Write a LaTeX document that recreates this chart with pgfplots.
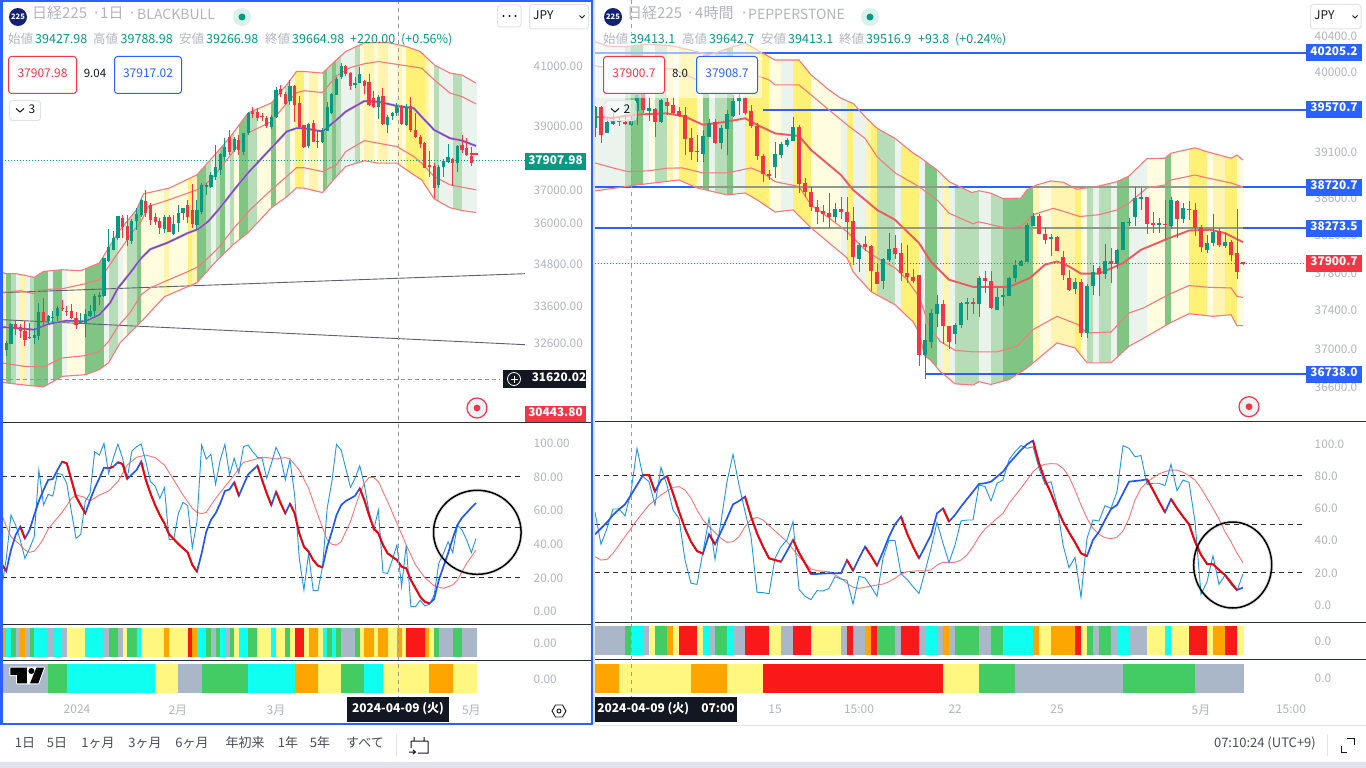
\documentclass[border=0pt]{standalone}
\usepackage{pgfplots}
\usepackage{fontspec}
\pgfplotsset{compat=1.18}
\setmainfont{Noto Sans CJK JP}
\definecolor{cblue}{HTML}{2962FF}\definecolor{cgray}{HTML}{B2B5BE}\definecolor{cteal}{HTML}{089981}
\definecolor{cred}{HTML}{F23645}\definecolor{cline}{HTML}{2A2E39}\definecolor{cdark}{HTML}{131722}
\definecolor{cbar}{HTML}{E0E3EB}\definecolor{cbot}{HTML}{4A4D57}\definecolor{cband}{HTML}{F7787C}
\definecolor{cmid}{HTML}{EF5A60}\definecolor{cpur}{HTML}{6256D6}\definecolor{cthin}{HTML}{2196E3}
\definecolor{csal}{HTML}{FF7474}\definecolor{ckb}{HTML}{2257F5}\definecolor{cover}{HTML}{8E9A8C}
\definecolor{rO}{HTML}{FFA500}\definecolor{rC}{HTML}{0FFFF0}\definecolor{rG}{HTML}{43CC63}
\definecolor{rA}{HTML}{A9B7C9}\definecolor{rY}{HTML}{FFF780}\definecolor{rR}{HTML}{F91919}
\definecolor{mC}{HTML}{80C583}\definecolor{mG}{HTML}{B6DDB8}\definecolor{mA}{HTML}{EAF4EC}
\definecolor{mY}{HTML}{FFFCE0}\definecolor{mO}{HTML}{FFF5B0}\definecolor{mR}{HTML}{FFF176}
% colour runs (from bar, to bar, class)
\newcommand\stripsL[1]{#1{0}{1}{O}#1{1}{2}{C}#1{2}{3}{G}#1{3}{4}{A}#1{4}{5}{O}#1{5}{6}{A}#1{6}{7}{G}#1{7}{10}{C}#1{10}{11}{A}#1{11}{13}{C}#1{13}{14}{A}#1{14}{18}{Y}#1{18}{22}{C}#1{22}{23}{A}#1{23}{25}{G}#1{25}{26}{A}#1{26}{27}{Y}#1{27}{29}{G}#1{29}{30}{C}#1{30}{35}{Y}#1{35}{36}{O}#1{36}{40}{Y}#1{40}{41}{R}#1{41}{42}{O}#1{42}{44}{C}#1{44}{45}{G}#1{45}{46}{A}#1{46}{47}{G}#1{47}{48}{C}#1{48}{49}{A}#1{49}{50}{G}#1{50}{51}{Y}#1{51}{53}{C}#1{53}{55}{G}#1{55}{58}{Y}#1{58}{59}{C}#1{59}{61}{Y}#1{61}{62}{G}#1{62}{63}{Y}#1{63}{65}{R}#1{65}{66}{Y}#1{66}{68}{O}#1{68}{69}{Y}#1{69}{70}{C}#1{70}{71}{G}#1{71}{72}{C}#1{72}{73}{G}#1{73}{76}{A}#1{76}{77}{G}#1{77}{78}{Y}#1{78}{80}{O}#1{80}{81}{Y}#1{81}{83}{O}#1{83}{85}{Y}#1{85}{86}{O}#1{86}{87}{Y}#1{87}{91}{R}#1{91}{92}{O}#1{92}{93}{Y}#1{93}{94}{G}#1{94}{97}{A}#1{97}{99}{G}#1{99}{102}{A}}
\newcommand\rowbL[1]{#1{0}{10}{A}#1{10}{14}{G}#1{14}{33}{C}#1{33}{38}{Y}#1{38}{43}{A}#1{43}{53}{G}#1{53}{63}{C}#1{63}{68}{O}#1{68}{73}{Y}#1{73}{78}{G}#1{78}{82}{C}#1{82}{92}{Y}#1{92}{97}{O}#1{97}{102}{Y}}
\newcommand\stripsR[1]{#1{0}{5}{A}#1{5}{6}{G}#1{6}{8}{C}#1{8}{9}{A}#1{9}{10}{Y}#1{10}{12}{G}#1{12}{13}{O}#1{13}{14}{Y}#1{14}{17}{R}#1{17}{18}{Y}#1{18}{19}{C}#1{19}{20}{A}#1{20}{22}{G}#1{22}{23}{C}#1{23}{25}{A}#1{25}{29}{R}#1{29}{31}{Y}#1{31}{33}{A}#1{33}{36}{R}#1{36}{41}{Y}#1{41}{42}{A}#1{42}{43}{R}#1{43}{45}{A}#1{45}{46}{O}#1{46}{47}{R}#1{47}{50}{G}#1{50}{51}{A}#1{51}{54}{R}#1{54}{55}{A}#1{55}{57}{C}#1{57}{58}{A}#1{58}{59}{O}#1{59}{60}{A}#1{60}{64}{G}#1{64}{66}{A}#1{66}{68}{G}#1{68}{73}{C}#1{73}{74}{O}#1{74}{76}{Y}#1{76}{80}{O}#1{80}{81}{R}#1{81}{82}{Y}#1{82}{83}{G}#1{83}{84}{A}#1{84}{86}{G}#1{86}{87}{A}#1{87}{89}{C}#1{89}{92}{A}#1{92}{95}{Y}#1{95}{96}{C}#1{96}{99}{Y}#1{99}{102}{R}#1{102}{103}{Y}#1{103}{105}{O}#1{105}{107}{R}#1{107}{108}{Y}}
\newcommand\rowbR[1]{#1{0}{4}{O}#1{4}{16}{Y}#1{16}{22}{O}#1{22}{28}{Y}#1{28}{58}{R}#1{58}{64}{Y}#1{64}{70}{G}#1{70}{88}{A}#1{88}{100}{G}#1{100}{108}{A}}
\newcommand\mainstrip[3]{\addplot[forget plot,draw=m#3,line width=.15pt,fill=m#3] coordinates {(#1,\ylo)(#2,\ylo)(#2,\yhi)(#1,\yhi)};}
\newcommand\rowstrip[3]{\addplot[forget plot,draw=r#3,line width=.15pt,fill=r#3] coordinates {(#1,-1)(#2,-1)(#2,1)(#1,1)};}
% candles: bar, open, high, low, close
\newcommand\Cg[5]{\addplot[forget plot,color=cteal,line width=1pt] coordinates {(#1,#4)(#1,#3)};\addplot[forget plot,color=cteal,line width=\bw] coordinates {(#1,#2)(#1,#5)};}
\newcommand\Cr[5]{\addplot[forget plot,color=cred,line width=1pt] coordinates {(#1,#4)(#1,#3)};\addplot[forget plot,color=cred,line width=\bw] coordinates {(#1,#2)(#1,#5)};}
\newcommand\leftcandles{%
\Cr{0}{33178}{33178}{32170}{32410}\Cg{1}{32410}{32633}{32231}{32590}\Cg{2}{32571}{33135}{32571}{33115}\Cr{3}{33107}{33225}{32815}{32970}\Cr{4}{33025}{33115}{32725}{32905}\Cr{5}{32924}{33178}{32517}{32679}\Cg{6}{32714}{33135}{32698}{32741}\Cg{7}{32733}{32998}{32571}{32815}\Cg{8}{32788}{33688}{32679}{33446}\Cr{9}{33446}{33827}{33088}{33178}%
\Cg{10}{33190}{33355}{33115}{33335}\Cg{11}{33280}{33454}{33135}{33300}\Cg{12}{33316}{33592}{33198}{33556}\Cr{13}{33548}{33780}{33454}{33520}\Cr{14}{33465}{33592}{33316}{33446}\Cr{15}{33473}{33669}{33244}{33270}\Cr{16}{33270}{33438}{32978}{33068}\Cg{17}{33143}{33410}{33096}{33170}\Cg{18}{33115}{33520}{32741}{33391}\Cg{19}{33335}{33640}{33298}{33454}%
\Cg{20}{33454}{33948}{33316}{33892}\Cg{21}{33845}{33995}{33640}{33920}\Cg{22}{33892}{34965}{33855}{34955}\Cg{23}{34888}{35825}{34868}{35275}\Cg{24}{35207}{35745}{35187}{35550}\Cg{25}{35550}{36213}{35500}{36192}\Cr{26}{36144}{36243}{35550}{35875}\Cr{27}{35893}{36243}{35324}{35500}\Cg{28}{35470}{36114}{35374}{36072}\Cg{29}{36042}{36453}{35795}{36273}%
\Cg{30}{36243}{36725}{36183}{36695}\Cr{31}{36674}{37000}{36183}{36293}\Cr{32}{36543}{36604}{35944}{36093}\Cr{33}{36183}{36303}{35944}{36033}\Cr{34}{36063}{36153}{35677}{35855}\Cg{35}{35825}{36243}{35707}{36183}\Cr{36}{36183}{36243}{35736}{35736}\Cg{37}{35677}{36243}{35648}{35974}\Cg{38}{36003}{36543}{35736}{36303}\Cg{39}{36303}{36453}{36093}{36453}%
\Cr{40}{36543}{36695}{36003}{36183}\Cr{41}{36393}{37185}{35855}{35974}\Cg{42}{35944}{36695}{35795}{36393}\Cg{43}{36333}{37215}{36273}{37154}\Cg{44}{37092}{37215}{36847}{37154}\Cg{45}{37092}{37557}{37061}{37463}\Cg{46}{37402}{38405}{37308}{37712}\Cg{47}{37618}{38152}{37463}{38120}\Cg{48}{38025}{38628}{37931}{38341}\Cr{49}{38660}{38885}{38089}{38183}%
\Cg{50}{38246}{38660}{38183}{38596}\Cr{51}{38564}{38724}{38089}{38246}\Cg{52}{38183}{38788}{38089}{38788}\Cg{53}{38788}{39469}{38724}{39436}\Cr{54}{39501}{39632}{39273}{39403}\Cr{55}{39469}{39600}{39176}{39273}\Cr{56}{39320}{39436}{39176}{39290}\Cr{57}{39273}{39338}{38950}{39014}\Cg{58}{38982}{39371}{38917}{39305}\Cg{59}{39305}{40294}{39273}{40194}%
\Cr{60}{40228}{40361}{39961}{40061}\Cr{61}{40061}{40127}{39698}{39731}\Cg{62}{39829}{40528}{39698}{40327}\Cr{63}{40327}{40361}{39143}{39698}\Cr{64}{39764}{39994}{38950}{38982}\Cr{65}{39046}{39046}{38310}{38341}\Cg{66}{38373}{39111}{38310}{39079}\Cr{67}{39111}{39208}{38500}{38500}\Cg{68}{38515}{38853}{38310}{38532}\Cg{69}{38500}{38950}{38469}{38885}%
\Cg{70}{38853}{39796}{38853}{39632}\Cg{71}{39436}{40094}{39403}{40061}\Cg{72}{40028}{40630}{40028}{40561}\Cg{73}{40630}{41102}{40561}{41000}\Cr{74}{41000}{41034}{40663}{40730}\Cr{75}{40763}{40797}{40194}{40327}\Cg{76}{40361}{40630}{40261}{40428}\Cg{77}{40428}{40966}{40428}{40730}\Cr{78}{40495}{40528}{40061}{40327}\Cr{79}{40461}{40730}{39665}{39698}%
\Cr{80}{39928}{40161}{39600}{39632}\Cg{81}{39632}{40028}{39240}{39961}\Cr{82}{39994}{40261}{39046}{39079}\Cg{83}{39046}{39371}{38788}{39305}\Cg{84}{39338}{39469}{39208}{39436}\Cg{85}{39436}{39764}{39338}{39698}\Cr{86}{39665}{39698}{39046}{39079}\Cg{87}{39046}{39731}{39014}{39632}\Cr{88}{39665}{39961}{38821}{38885}\Cr{89}{38885}{39436}{38628}{38660}%
\Cr{90}{38660}{38724}{38310}{38437}\Cr{91}{38469}{38500}{37680}{37680}\Cr{92}{37755}{38215}{37400}{37712}\Cr{93}{37743}{37838}{36756}{37061}\Cg{94}{37154}{37775}{37061}{37712}\Cg{95}{37712}{37962}{37402}{37900}\Cg{96}{37868}{38437}{37838}{38025}\Cr{97}{37962}{37994}{37123}{37838}\Cg{98}{37838}{38405}{37557}{38373}\Cr{99}{38405}{38724}{38152}{38246}%
\Cr{100}{38310}{38628}{38058}{38089}\Cr{101}{38058}{38341}{37743}{37838}}
\newcommand\rightcandles{%
\Cg{0}{39368}{39612}{39269}{39604}\Cr{1}{39601}{39612}{39202}{39291}\Cg{2}{39316}{39494}{39309}{39435}\Cg{3}{39413}{39535}{39402}{39449}\Cr{4}{39457}{39494}{39391}{39438}\Cr{5}{39438}{39513}{39402}{39413}\Cg{6}{39402}{39535}{39391}{39457}\Cg{7}{39560}{39746}{39402}{39735}\Cr{8}{39754}{39757}{39538}{39568}\Cg{9}{39560}{39701}{39449}{39587}%
\Cr{10}{39579}{39594}{39272}{39438}\Cg{11}{39438}{39690}{39420}{39679}\Cr{12}{39660}{39701}{39513}{39612}\Cr{13}{39623}{39705}{39513}{39531}\Cr{14}{39557}{39601}{39494}{39505}\Cr{15}{39513}{39604}{39067}{39246}\Cr{16}{39257}{39368}{39016}{39106}\Cr{17}{39114}{39291}{38997}{39100}\Cg{18}{39081}{39346}{38997}{39279}\Cg{19}{39272}{39468}{39265}{39420}%
\Cr{20}{39435}{39471}{39187}{39205}\Cg{21}{39198}{39402}{39136}{39365}\Cg{22}{39357}{39568}{39070}{39524}\Cg{23}{39505}{39735}{39494}{39668}\Cg{24}{39665}{39791}{39513}{39698}\Cr{25}{39698}{39716}{39513}{39538}\Cr{26}{39557}{39623}{39368}{39391}\Cr{27}{39391}{39424}{39016}{39062}\Cr{28}{39062}{39081}{38778}{38862}\Cr{29}{38862}{38906}{38797}{38844}%
\Cg{30}{38936}{39216}{38815}{39081}\Cg{31}{39073}{39216}{39034}{39191}\Cg{32}{39180}{39257}{39162}{39235}\Cg{33}{39227}{39487}{39221}{39383}\Cr{34}{39383}{39402}{38655}{38753}\Cr{35}{38767}{38819}{38616}{38666}\Cr{36}{38666}{38721}{38463}{38500}\Cr{37}{38500}{38580}{38321}{38453}\Cr{38}{38460}{38525}{38335}{38428}\Cr{39}{38435}{38656}{38278}{38393}%
\Cg{40}{38393}{38544}{38335}{38482}\Cr{41}{38482}{38613}{38375}{38453}\Cr{42}{38449}{38613}{38149}{38342}\Cr{43}{38353}{38507}{37882}{37960}\Cg{44}{37946}{38113}{37800}{38095}\Cr{45}{38106}{38192}{38024}{38074}\Cr{46}{38085}{38095}{37599}{37811}\Cr{47}{37808}{37900}{37681}{37681}\Cg{48}{37705}{37953}{37628}{37946}\Cg{49}{37935}{38221}{37911}{38053}%
\Cr{50}{38063}{38202}{37946}{38000}\Cr{51}{38010}{38114}{37712}{37790}\Cr{52}{37797}{38095}{37691}{37755}\Cr{53}{37755}{37840}{37688}{37705}\Cr{54}{37776}{37776}{36815}{36929}\Cg{55}{36937}{37259}{36688}{37092}\Cg{56}{37071}{37416}{37009}{37374}\Cg{57}{37364}{37564}{37228}{37466}\Cr{58}{37469}{37511}{37050}{37231}\Cr{59}{37231}{37239}{36998}{37071}%
\Cg{60}{37155}{37266}{37050}{37249}\Cg{61}{37242}{37483}{37218}{37476}\Cg{62}{37469}{37532}{37301}{37487}\Cr{63}{37487}{37532}{37364}{37469}\Cg{64}{37469}{37766}{37332}{37741}\Cr{65}{37741}{37818}{37585}{37705}\Cr{66}{37709}{37818}{37416}{37420}\Cg{67}{37406}{37635}{37399}{37539}\Cg{68}{37535}{37638}{37441}{37564}\Cg{69}{37546}{37755}{37546}{37744}%
\Cg{70}{37737}{37935}{37702}{37882}\Cg{71}{37872}{37935}{37864}{37921}\Cg{72}{37914}{38331}{37914}{38310}\Cg{73}{38299}{38439}{38292}{38407}\Cr{74}{38407}{38428}{38206}{38206}\Cr{75}{38213}{38291}{38099}{38142}\Cg{76}{38152}{38213}{37970}{38178}\Cr{77}{38178}{38185}{38024}{38031}\Cr{78}{37967}{38024}{37723}{37768}\Cr{79}{37744}{37829}{37599}{37617}%
\Cg{80}{37628}{37741}{37575}{37699}\Cr{81}{37699}{37730}{37120}{37163}\Cg{82}{37163}{37681}{37113}{37659}\Cg{83}{37652}{37882}{37556}{37805}\Cr{84}{37850}{37864}{37546}{37787}\Cg{85}{37787}{38103}{37730}{37925}\Cr{86}{37925}{38060}{37688}{37885}\Cg{87}{37885}{38049}{37836}{38042}\Cg{88}{38042}{38346}{38035}{38335}\Cg{89}{38331}{38385}{38292}{38342}%
\Cg{90}{38393}{38721}{38292}{38602}\Cg{91}{38591}{38710}{38471}{38613}\Cr{92}{38613}{38613}{38213}{38321}\Cr{93}{38328}{38453}{38224}{38310}\Cg{94}{38310}{38385}{38224}{38328}\Cr{95}{38321}{38580}{38160}{38305}\Cg{96}{38299}{38613}{38267}{38580}\Cr{97}{38569}{38580}{38170}{38375}\Cg{98}{38371}{38544}{38331}{38489}\Cr{99}{38482}{38569}{38364}{38471}%
\Cr{100}{38471}{38547}{38185}{38278}\Cr{101}{38285}{38310}{38021}{38067}\Cg{102}{38042}{38202}{38010}{38114}\Cg{103}{38114}{38428}{38085}{38231}\Cr{104}{38242}{38278}{38074}{38095}\Cg{105}{38085}{38224}{38063}{38124}\Cr{106}{38124}{38149}{37925}{37989}\Cr{107}{38007}{38482}{37734}{37800}\Cr{108}{37915}{37915}{37880}{37890}}
% left bands
\newcommand\LUtwo[2]{\addplot[#1] coordinates {(0,34552)(1,34515)(3,34515)(5,34467)(7,34410)(9,34581)(13,34629)(17,34600)(18,34658)(21,34821)(23,35265)(25,35715)(29,36393)(30.5,36878)(36,37053)(42,37463)(45.5,38035)(49,38628)(53,39436)(58,39764)(61.3,40361)(63.4,40808)(65,40808)(69,40753)(72,41204)(74,41488)(78,41789)(83,41800)(87,41658)(90,41488)(93,41034)(96.4,40753)(99,40686)(102,40418)#2};}
\newcommand\LUone[1]{\addplot[#1] coordinates {(0,33984)(4,34032)(7,33948)(8,34060)(13,34088)(18,34231)(21,34344)(23,34724)(25,35111)(28,35698)(30,36042)(31.5,36493)(36,36695)(42,37000)(45,37308)(48.4,37931)(53,38788)(58,39153)(61.3,39764)(63.4,40094)(65,40161)(69,40104)(72,40660)(75,40942)(78,41068)(81,41146)(87,41000)(90.3,40922)(93,40528)(96.4,40085)(99,39971)(102,39731)};}
\newcommand\LMid[1]{\addplot[#1] coordinates {(0,33025)(7,32951)(10,33107)(14,33198)(18,33178)(21,33363)(23.3,33688)(25,34108)(27.6,34535)(30,34966)(32,35228)(35.5,35403)(40,35698)(42.3,35816)(44.4,36042)(46.6,36393)(50,37000)(53,37525)(57,38152)(61.3,38830)(63.4,38940)(65,38940)(69,38830)(72,39208)(74,39479)(78,39829)(81,39806)(85,39665)(88.6,39590)(90.3,39315)(93,38885)(96.4,38618)(99,38542)(102,38373)};}
\newcommand\LLone[1]{\addplot[#1] coordinates {(0,32056)(5,31965)(9,31950)(13,32188)(18,32250)(21,32365)(23,32633)(25,33041)(27.6,33418)(30,33920)(32,34117)(35.5,34316)(40,34572)(42.3,34715)(44.4,34975)(46.6,35265)(50,35855)(53.4,36393)(58,37000)(61.3,37410)(63.4,37680)(65,37680)(69,37565)(72,37775)(74,38192)(78,38542)(81,38460)(85,38350)(88.6,38035)(90.3,37827)(93,37410)(96.4,37154)(99,37083)(102,37000)};}
\newcommand\LLtwo[2]{\addplot[#1] coordinates {(0,31545)(4,31485)(9,31425)(13,31702)(18,31746)(21,31878)(23,32063)(25.5,32598)(30,33170)(35,33864)(42,34259)(46,34859)(50,35383)(53,35707)(58,36453)(61.3,36786)(63.4,37061)(65,37053)(69,36917)(72,37410)(74,37722)(78,37900)(81,37827)(85,37827)(88.6,37463)(90.3,37308)(93,36725)(96.4,36453)(99,36372)(102,36312)#2};}
% right bands
\newcommand\RUtwo[2]{\addplot[#1] coordinates {(0,40335)(2,40286)(5,40278)(9,40309)(13,40286)(17,40222)(19,40184)(23,40278)(25,40320)(28,40204)(30,40128)(34,40128)(36,39961)(39,39791)(41,39698)(43,39642)(45,39494)(47,39365)(50,39253)(53,39092)(54,39052)(57,38906)(59,38778)(62.8,38659)(64,38680)(66,38652)(68,38594)(71,38599)(72,38688)(73.6,38742)(76,38786)(78,38772)(80.3,38696)(83.6,38724)(87,38778)(89,38840)(92,39030)(95,39034)(96,39089)(100,39150)(102,39106)(106,39034)(107,39070)(108,39016)#2};}
\newcommand\RUone[1]{\addplot[#1] coordinates {(0,40064)(3,40027)(5.5,40005)(9,40035)(13,40027)(17,39904)(19,39885)(23,39961)(25,39998)(29,39904)(30,39848)(34,39848)(36,39735)(39,39568)(42,39402)(45,39253)(47,39052)(50,38873)(54,38723)(57,38580)(59,38436)(63,38321)(64,38342)(68.6,38274)(71,38292)(73,38418)(76.4,38489)(80.8,38400)(84,38418)(87,38471)(89,38547)(92,38710)(95,38742)(96,38797)(100,38851)(102,38819)(106,38764)(108,38720)};}
\newcommand\RMid[1]{\addplot[#1] coordinates {(0,39490)(3,39479)(5,39501)(8,39520)(12,39531)(15,39494)(18,39402)(22,39438)(25,39476)(27,39402)(30,39309)(34,39279)(36,39125)(41,38851)(43,38688)(45,38580)(47,38471)(50,38364)(52,38238)(54,38114)(56,37914)(59,37723)(63,37646)(69,37646)(72.5,37741)(75,37882)(77,37917)(79,37864)(81,37787)(84,37787)(88,37900)(91,38042)(95,38149)(99,38249)(102.5,38256)(105,38221)(108,38124)};}
\newcommand\RLone[1]{\addplot[#1] coordinates {(0,38983)(3,38928)(5.5,38887)(9,38898)(12,38925)(14.5,38928)(18,38873)(22,38873)(26,38928)(28,38873)(30,38778)(34,38724)(36,38525)(39,38385)(42,38235)(45,38042)(47,37956)(50,37850)(52,37723)(54,37543)(55.83,37218)(57.5,37074)(60,36981)(63,36965)(67,36965)(70.3,37023)(73,37197)(77,37336)(80.5,37249)(82,37162)(86,37172)(89,37371)(91.4,37424)(95.8,37572)(99,37660)(102.5,37642)(106,37635)(107,37546)(108,37536)};}
\newcommand\RLtwo[2]{\addplot[#1] coordinates {(0,38677)(7,38742)(14,38797)(17,38710)(22,38634)(25,38655)(27,38580)(30,38449)(33,38471)(36,38278)(39,38117)(42,37956)(43,37808)(46,37596)(50,37458)(53,37280)(54,37166)(55,36916)(55.83,36885)(57.5,36763)(60,36634)(63,36620)(64,36655)(66,36627)(69,36678)(72,36798)(77,37058)(80,37006)(82,36851)(86,36851)(89,37023)(92,37127)(95.8,37266)(99,37364)(103,37336)(106,37353)(107,37239)(108,37239)#2};}
% oscillators
\newcommand\LK[1]{\addplot[#1] coordinates {(0,27.8)(1,23.8)(2,36.3)(3,45.2)(4,50.2)(5,43.2)(6,48.2)(7,57.1)(8,65.5)(9,72)(10,78)(11,78.6)(12,83.9)(13,88.9)(14,87.9)(15,78)(16,68)(17,63)(18,58.1)(19,66)(20,73)(21,79)(22,85.3)(23,84.9)(24,85.9)(25,88.5)(26,87.5)(27,78.6)(28,81.3)(29,83.9)(30,88.9)(31,78)(32,70)(33,63)(34,57.1)(35,52.2)(36,45.6)(37,42.8)(38,39.9)(39,37.3)(40,34.9)(41,27.4)(42,23.4)(43,34.3)(44,47.2)(45,54.2)(46,58.1)(47,64.1)(48,71.4)(49,72.4)(50,76.6)(51,68.6)(52,75)(53,81.3)(54,83.9)(55,86.5)(56,78)(57,70)(58,63)(59,71)(60,64.1)(61,58.1)(62,63.9)(63,58.1)(64,46.2)(65,38.3)(66,35.3)(67,30.3)(68,27)(69,26)(70,38.3)(71,47.2)(72,57.1)(73,63)(74,65.5)(75,67)(76,68.6)(77,73)(78,66)(79,57.1)(80,49.2)(81,46.2)(82,39.3)(83,34.3)(84,32.3)(85,30.3)(86,26.4)(87,25.4)(88,18.4)(89,13.5)(90,8.5)(91,5.5)(92,4.5)(93,7.1)(94,18.4)(95,26.4)(96,34.3)(97,43.2)(98,51.2)(99,55.5)(100,58.5)(101,61.5)(102,64.3)};}
\newcommand\RK[1]{\addplot[#1] coordinates {(0,43.6)(1,47.3)(2,51)(3,55.6)(4,59.1)(5,62.2)(6,68)(7,74.2)(8,80.4)(9,80.4)(10,70.1)(11,77.3)(12,79.8)(13,69)(14,57.7)(15,47.3)(16,39)(17,33.2)(18,31.6)(19,43.6)(20,37.4)(21,45.2)(22,53.5)(23,62.2)(24,64.3)(25,67)(26,54.6)(27,44.2)(28,35.9)(29,28.7)(30,27.6)(31,26.6)(32,33.2)(33,40.1)(34,32.2)(35,25.6)(36,19)(37,19)(38,19.2)(39,19.4)(40,19.4)(41,19.4)(42,27.6)(43,21)(44,28.7)(45,35.9)(46,30.3)(47,24.1)(48,32.8)(49,42.1)(50,49.8)(51,54.6)(52,44.2)(53,35.9)(54,28.7)(55,35.9)(56,43.2)(57,56.6)(58,59.7)(59,51.5)(60,55.6)(61,60.8)(62,65.5)(63,70.1)(64,74.9)(65,75.3)(66,76.3)(67,79.4)(68,82.5)(69,87.7)(70,91.8)(71,96)(72,99.5)(73,101.8)(74,87.7)(75,77.3)(76,69)(77,59.7)(78,51.5)(79,44.8)(80,38.6)(81,31.8)(82,30.1)(83,40.1)(84,45.2)(85,52.5)(86,59.3)(87,61.8)(88,69)(89,76.3)(90,76.7)(91,77.1)(92,77.8)(93,71.1)(94,63.9)(95,57.3)(96,65.5)(97,59.7)(98,54.6)(99,49.8)(100,39)(101,30.8)(102,25.2)(103,25)(104,21.4)(105,18.3)(106,13.6)(107,9)(108,10.5)};}
\newcommand{\fs}[1]{\fontsize{#1}{#1}\selectfont}
\pgfplotsset{panel/.style={scale only axis,anchor=north west,axis line style={draw=none},tick style={draw=none},major tick length=0pt,xtick=\empty,yticklabel pos=right,
 yticklabel style={font=\fs{11.8},text=cgray,anchor=west,inner sep=0pt,xshift=8.5pt,yshift=-.5pt},xticklabel style={font=\fs{12},text=cgray,inner sep=0pt}}}
\newcommand{\txt}[5]{\node[anchor=#1,inner sep=0pt,text=#4,font=\fs{#3}] at (#2) {#5};}
\begin{document}
\begin{tikzpicture}
\path[use as bounding box] (0,0) rectangle (1366pt,-768pt);
\fill[white] (0,0) rectangle (1366pt,-768pt);
\fill[cbar] (592pt,0) rectangle (595pt,-724pt);
%------------- LEFT PRICE
\begin{axis}[panel,at={(2.5pt,-2pt)},width=522.5pt,height=420pt,xmin=0.179,xmax=112.54,ymode=log,ymin=30529,ymax=43231,
 ytick={41000,39000,37000,36000,34800,33600,32600},yticklabels={41000.00,39000.00,37000.00,36000.00,34800.00,33600.00,32600.00}]
\def\ylo{30529}\def\yhi{43231}\def\bw{3.2pt}
\stripsL\mainstrip
\LUtwo{forget plot,fill=white,draw=none}{(102.5,40418)(102.5,43231)(-0.3,43231)}
\LLtwo{forget plot,fill=white,draw=none}{(102.5,36312)(102.5,30529)(-0.3,30529)}
\addplot[forget plot,color=cline!75,line width=.9pt] coordinates {(0,33976)(112.5,34515)};
\addplot[forget plot,color=cline!75,line width=.9pt] coordinates {(0,33225)(112.5,32545)};
\addplot[forget plot,color=gray!85,line width=.8pt,dash pattern=on 4pt off 3pt] coordinates {(0,31620)(107,31620)};
\addplot[forget plot,color=cteal,line width=.8pt,dash pattern=on 1pt off 2pt] coordinates {(0,37908)(112.5,37908)};
\LUtwo{forget plot,color=cband,line width=1.1pt}{}
\LUone{forget plot,color=cband,line width=1.1pt}
\LLone{forget plot,color=cband,line width=1.1pt}
\LLtwo{forget plot,color=cband,line width=1.1pt}{}
\LMid{forget plot,color=cband!70,line width=2.4pt}
\LMid{forget plot,color=cpur,line width=1.5pt}
\leftcandles
\addplot[forget plot,color=cred,line width=1.6pt] coordinates {(100.8,38110)(102.5,38110)};
\end{axis}
%------------- LEFT STOCH
\begin{axis}[panel,at={(2.5pt,-423pt)},width=522.5pt,height=201pt,xmin=0.179,xmax=112.54,ymin=-7.74,ymax=111.9,
 ytick={0,20,40,60,80,100},yticklabels={0.00,20.00,40.00,60.00,80.00,100.00}]
\addplot[forget plot,color=cline,line width=.9pt,dash pattern=on 5pt off 4pt] coordinates {(0,80)(112,80)};
\addplot[forget plot,color=cline,line width=.9pt,dash pattern=on 5pt off 4pt] coordinates {(0,50)(112,50)};
\addplot[forget plot,color=cline,line width=.9pt,dash pattern=on 5pt off 4pt] coordinates {(0,20)(112,20)};
\addplot[forget plot,color=csal,line width=.9pt] coordinates {(0,57.5)(1,50.2)(2,44.2)(4,39.3)(5,36.3)(6,34.9)(7,35.7)(8,38.9)(9,43.2)(10,48.8)(11,52.2)(13,58.7)(15,67)(16,69)(17.5,68)(19,65.5)(21,69)(23,71.4)(25,77)(27,86.9)(29,91.5)(31,92.8)(33,91.3)(35,86.9)(37,78)(39,69)(41,61.1)(42,58.7)(43,57.9)(44,58.7)(46,67)(48,74)(50,80.9)(52,88.5)(54,89.9)(56,91.5)(57,91.3)(59,90.5)(61,91.3)(62,90.5)(64,83.9)(66,73)(68,57.1)(70,42.2)(71,39.7)(72,39.3)(73,41.3)(75,53.2)(77,70)(78,76)(79,79.5)(80,79.5)(81,77)(83,65.1)(85,52.2)(87,39.3)(89,27.4)(91,19.8)(93,15)(95,13.5)(97,15.5)(98,18.4)(100,28.4)(102,36.3)};
\addplot[forget plot,color=cthin,line width=.9pt] coordinates {(0,14.1)(1,31.3)(2,57.1)(3,51.2)(4,42.2)(5,31.3)(6,37.3)(7,44.2)(8,83.9)(9,63.1)(10,69.4)(11,68.4)(12,81.9)(13,81.3)(14,76)(15,59.1)(16,43.2)(17,45.6)(18,65.5)(19,70)(20,94.8)(21,92.8)(22,99.8)(23,81.9)(24,90.9)(25,99.4)(26,90.9)(27,79)(28,95.2)(29,97.8)(30,99.4)(31,88.9)(32,77)(33,74.4)(34,67)(35,73.4)(36,42.6)(37,42.6)(38,58.1)(39,64.7)(40,62.7)(41,37.7)(42,53.2)(43,98.8)(44,90.5)(45,93.2)(46,75.4)(47,89.9)(48,99.2)(49,80.9)(50,90.9)(51,81.9)(52,97.8)(53,98.8)(54,94.8)(55,91.5)(56,90.9)(57,79)(58,87.9)(59,97.4)(60,91.5)(61,78)(62,89.9)(63,69)(64,31.3)(65,12.5)(66,34.3)(67,12.1)(68,12.1)(69,26.4)(70,61.1)(71,77)(72,99.2)(73,95.8)(74,84.9)(75,73.6)(76,79)(77,86.5)(78,75)(79,59.1)(80,48.2)(81,60.1)(82,22.8)(83,22.4)(84,30.3)(85,39.3)(86,14.5)(87,39.3)(88,2.6)(89,2.6)(90,6.5)(91,3)(92,4)(93,9.5)(94,28.4)(95,34.3)(96,41.3)(97,34.7)(98,51.2)(99,48.2)(100,42.2)(101,34.7)(102,43.2)};
\LK{forget plot,color=ckb,line width=1.7pt}
\LK{forget plot,color=red,line width=1.9pt,restrict x to domain=-0.01:1.01}
\LK{forget plot,color=red,line width=1.9pt,restrict x to domain=3.99:5.01}
\LK{forget plot,color=red,line width=1.9pt,restrict x to domain=12.99:18.01}
\LK{forget plot,color=red,line width=1.9pt,restrict x to domain=22.99:24.01}
\LK{forget plot,color=red,line width=1.9pt,restrict x to domain=24.99:27.01}
\LK{forget plot,color=red,line width=1.9pt,restrict x to domain=29.99:42.01}
\LK{forget plot,color=red,line width=1.9pt,restrict x to domain=49.99:51.01}
\LK{forget plot,color=red,line width=1.9pt,restrict x to domain=54.99:58.01}
\LK{forget plot,color=red,line width=1.9pt,restrict x to domain=58.99:61.01}
\LK{forget plot,color=red,line width=1.9pt,restrict x to domain=61.99:69.01}
\LK{forget plot,color=red,line width=1.9pt,restrict x to domain=76.99:92.01}
\end{axis}
%------------- LEFT ROWS
\begin{axis}[panel,at={(2.5pt,-625pt)},width=522.5pt,height=35pt,xmin=0.179,xmax=112.54,ymin=-1.25,ymax=1.25,ytick={0},yticklabels={0.00}]
\stripsL\rowstrip
\end{axis}
\begin{axis}[panel,at={(2.5pt,-661pt)},width=522.5pt,height=35pt,xmin=0.179,xmax=112.54,ymin=-1.25,ymax=1.25,ytick={0},yticklabels={0.00},
 xtick={16.2,37.9,59,101},xticklabels={2024,2月,3月,5月},xticklabel style={yshift=-9pt}]
\rowbL\rowstrip
\end{axis}
%------------- RIGHT PRICE (logarithmic price scale, through a coordinate transformation)
\begin{axis}[panel,at={(595pt,0pt)},width=711pt,height=421pt,xmin=0,xmax=118.5,
 y coord trafo/.code={\begingroup\pgfkeys{/pgf/fpu=true,/pgf/fpu/output format=fixed}\pgfmathparse{1000*ln(#1/36252)}\pgfmathsmuggle\pgfmathresult\endgroup},
 ymin=36252,ymax=40811,
 ytick={40400,40000,39100,38600,38200,37800,37400,37000,36600},yticklabels={40400.0,40000.0,39100.0,38600.0,38200.0,37800.0,37400.0,37000.0,36600.0}]
\def\ylo{36252}\def\yhi{40811}\def\bw{4.6pt}
\stripsR\mainstrip
\RUtwo{forget plot,fill=white,draw=none}{(108.5,39016)(108.5,40811)(-0.3,40811)}
\RLtwo{forget plot,fill=white,draw=none}{(108.5,37239)(108.5,36252)(-0.3,36252)}
\addplot[forget plot,color=cblue,line width=2pt] coordinates {(0,40205.2)(118.5,40205.2)};
\addplot[forget plot,color=cblue,line width=2pt] coordinates {(28,39570.7)(118.5,39570.7)};
\addplot[forget plot,color=cblue,line width=2pt] coordinates {(0,38720.7)(118.5,38720.7)};
\addplot[forget plot,color=cblue,line width=2pt] coordinates {(0,38273.5)(118.5,38273.5)};
\addplot[forget plot,color=cblue,line width=2pt] coordinates {(55,36738)(118.5,36738)};
\addplot[forget plot,color=cover,line width=2pt] coordinates {(16.7,38720.7)(59,38720.7)};
\addplot[forget plot,color=cover,line width=2pt] coordinates {(73,38720.7)(108,38720.7)};
\addplot[forget plot,color=cover,line width=2pt] coordinates {(36,38273.5)(108,38273.5)};
\addplot[forget plot,color=cred,line width=.8pt,dash pattern=on 1pt off 2pt] coordinates {(0,37900.7)(118.5,37900.7)};
\RUtwo{forget plot,color=cband,line width=1.1pt}{}
\RUone{forget plot,color=cband,line width=1.1pt}
\RLone{forget plot,color=cband,line width=1.1pt}
\RLtwo{forget plot,color=cband,line width=1.1pt}{}
\RMid{forget plot,color=cmid,line width=1.9pt}
\rightcandles
\end{axis}
%------------- RIGHT STOCH
\begin{axis}[panel,at={(595pt,-422pt)},width=711pt,height=200pt,xmin=0,xmax=118.5,ymin=-10.87,ymax=113.35,
 ytick={0,20,40,60,80,100},yticklabels={0.0,20.0,40.0,60.0,80.0,100.0}]
\addplot[forget plot,color=cline,line width=.9pt,dash pattern=on 5pt off 4pt] coordinates {(0,80)(118.3,80)};
\addplot[forget plot,color=cline,line width=.9pt,dash pattern=on 5pt off 4pt] coordinates {(0,50)(118.3,50)};
\addplot[forget plot,color=cline,line width=.9pt,dash pattern=on 5pt off 4pt] coordinates {(0,20)(118.3,20)};
\addplot[forget plot,color=csal,line width=.9pt] coordinates {(0,29.7)(1,27.6)(2,28)(3,31.8)(4,37)(6,47.3)(7,52.5)(9,61.8)(11,68)(13,72.8)(14,73.2)(15,71.1)(16,66)(17,58.7)(18,52.5)(19,48.4)(21,41.1)(22,38.6)(23,39)(24,42.1)(25,48.4)(26,52.9)(27,54.1)(28,52.5)(30,45.7)(32,39)(34,29.7)(35,25.6)(36,22.1)(37,21)(39,20.4)(41,16.3)(42,13.2)(43,10.7)(44,10)(46,11.5)(48,12.7)(49,14.2)(50,16.3)(51,19)(52,20.4)(54,21)(55,20.8)(56,21.4)(57,24.5)(58,26.2)(60,26.2)(61,27.6)(62,30.8)(63,35.9)(64,42.1)(65,46.9)(67,53.5)(68,56.6)(69,62.8)(70,67.6)(71,72.2)(72,77.3)(73,82.5)(74,85.6)(75,87.1)(76,87.5)(77,87.3)(78,84.6)(79,79.4)(80,71.1)(81,61.8)(82,53.5)(83,47.3)(84,43.6)(85,41.5)(86,40.9)(87,41.7)(88,45.7)(89,53.5)(90,64.9)(91,72.2)(92,75.9)(93,78.8)(94,81.1)(95,82.5)(96,83.5)(97,83.5)(98,82.1)(99,80)(100,77.3)(101,72.2)(102,66)(103,59.7)(104,53.1)(105,45.2)(106,39)(107,31.8)(108,26)};
\addplot[forget plot,color=cthin,line width=.9pt] coordinates {(0,57.3)(1,37.4)(2,47.3)(3,59.3)(4,59.3)(5,55)(6,70.1)(7,97)(8,79.4)(9,76.3)(10,61.8)(11,85.2)(12,74.2)(13,58.7)(14,53.5)(15,27.6)(16,13.2)(17,12.5)(18,32.8)(19,53.5)(20,28)(21,51.5)(22,76.3)(23,93.3)(24,74.2)(25,57.7)(26,42.1)(27,7.6)(28,7.4)(29,6.7)(30,28.7)(31,35.9)(32,40.1)(33,51.5)(34,9.4)(35,5.1)(36,3)(37,8.6)(38,8.4)(39,10)(40,17.3)(41,15.8)(42,15)(43,0.3)(44,17.5)(45,16.5)(46,11.1)(47,5.1)(48,28.7)(49,39.9)(50,39.7)(51,19)(52,15.6)(53,11.1)(54,6.9)(55,20.4)(56,34.9)(57,51)(58,38)(59,26)(60,37)(61,51.9)(62,52.5)(63,52.5)(64,74.2)(65,73.2)(66,64.3)(67,75.3)(68,77.3)(69,89.8)(70,94.9)(71,98.7)(72,97)(73,98)(74,84.6)(75,74.6)(76,76.3)(77,61.8)(78,37)(79,22.9)(80,29.3)(81,4.5)(82,41.1)(83,52.5)(84,51.9)(85,61.4)(86,59.7)(87,70.1)(88,98.7)(89,97)(90,91.8)(91,92.5)(92,74.6)(93,75.3)(94,75.3)(95,73.8)(96,87.1)(97,70.7)(98,77.3)(99,75.9)(100,51.5)(101,6.3)(102,14.2)(103,30.3)(104,12.5)(105,18.3)(106,12.5)(107,8.6)(108,19)};
\RK{forget plot,color=ckb,line width=1.7pt}
\RK{forget plot,color=red,line width=1.9pt,restrict x to domain=7.99:10.01}
\RK{forget plot,color=red,line width=1.9pt,restrict x to domain=11.99:18.01}
\RK{forget plot,color=red,line width=1.9pt,restrict x to domain=18.99:20.01}
\RK{forget plot,color=red,line width=1.9pt,restrict x to domain=24.99:31.01}
\RK{forget plot,color=red,line width=1.9pt,restrict x to domain=32.99:36.01}
\RK{forget plot,color=red,line width=1.9pt,restrict x to domain=41.99:43.01}
\RK{forget plot,color=red,line width=1.9pt,restrict x to domain=44.99:47.01}
\RK{forget plot,color=red,line width=1.9pt,restrict x to domain=50.99:54.01}
\RK{forget plot,color=red,line width=1.9pt,restrict x to domain=57.99:59.01}
\RK{forget plot,color=red,line width=1.9pt,restrict x to domain=72.99:82.01}
\RK{forget plot,color=red,line width=1.9pt,restrict x to domain=91.99:95.01}
\RK{forget plot,color=red,line width=1.9pt,restrict x to domain=95.99:107.01}
\end{axis}
%------------- RIGHT ROWS
\begin{axis}[panel,at={(595pt,-623pt)},width=711pt,height=35pt,xmin=0,xmax=118.5,ymin=-1.25,ymax=1.25,ytick={0},yticklabels={0.0}]
\stripsR\rowstrip
\end{axis}
\begin{axis}[panel,at={(595pt,-660.5pt)},width=711pt,height=35pt,xmin=0,xmax=118.5,ymin=-1.25,ymax=1.25,ytick={0},yticklabels={0.0},
 xtick={30,44,60,77,101,116},xticklabels={15,15:00,22,25,5月,15:00},xticklabel style={yshift=-9pt}]
\rowbR\rowstrip
\end{axis}
%------------- INTERFACE
\begin{scope}[x=1pt,y=-1pt]
\foreach \yy in {422.5,624.5,660.5}{\draw[cline,line width=1pt] (2,\yy)--(591,\yy);}
\foreach \yy in {421,622.5,659.5}{\draw[cline,line width=1pt] (595,\yy)--(1366,\yy);}
\draw[cgray!50!black!60,line width=1pt,dash pattern=on 4pt off 4pt] (398,0)--(398,697);
\draw[cgray!50!black!60,line width=1pt,dash pattern=on 4pt off 4pt] (631,0)--(631,697);
\fill[white,opacity=.55] (595,33) rectangle (762,98);
\draw[black,opacity=.12,line width=3.5pt] (477.3,532.3) ellipse (43.8 and 42);
\draw[black,opacity=.12,line width=3.5pt] (1232.7,565) ellipse (39 and 43);
\draw[black,line width=1.5pt] (477.3,532.3) ellipse (43.8 and 42);
\draw[black,line width=1.5pt] (1232.7,565) ellipse (39 and 43);
\foreach \cx/\cy in {477/408,1249/406.7}{
 \fill[cbar!50,draw=cred,line width=1.2pt] (\cx,\cy) circle (10);
 \fill[cred] (\cx,\cy) circle (3.4);}
\fill[cteal] (525,153) rectangle (586,170);
\txt{mid}{555.5,161.5}{11.8}{white}{\textbf{37907.98}}
\fill[cdark] (503,370) rectangle (586,388);
\draw[white,line width=.8pt] (514,379) circle (6.5);
\draw[white,line width=.8pt] (510.5,379)--(517.5,379) (514,375.5)--(514,382.5);
\txt{mid}{559,379}{11.8}{white}{\textbf{31620.02}}
\fill[cred] (525,406) rectangle (586,422);
\txt{mid}{555.5,414}{11.8}{white}{\textbf{30443.80}}
\foreach \yy/\tt in {53/40205.2,109/39570.7,187/38720.7,228/38273.5,374/36738.0}{
 \fill[cblue] (1306,\yy-8.5) rectangle (1362,\yy+8.5);
 \txt{mid}{1334,\yy}{11.8}{white}{\textbf{\tt}}}
\fill[cred] (1306,254.5) rectangle (1362,271.5);
\txt{mid}{1334,263}{11.8}{white}{\textbf{37900.7}}
\fill[blue!20!cdark!80!cblue] (18,17) circle (9);
\txt{mid}{18,17}{7.5}{white}{\textbf{225}}
\txt{mid west}{32,16}{15}{cgray}{日経225}
\txt{mid west}{92,16}{15}{cgray}{·}
\txt{mid west}{100,16}{15}{cgray}{1日}
\txt{mid west}{128,16}{15}{cgray}{·}
\txt{mid west}{137,17}{14}{cgray}{BLACKBULL}
\fill[cteal!15] (242,17) circle (9);\fill[cteal] (242,17) circle (3.5);
\txt{mid west}{8,41}{12.5}{cgray}{始値}\txt{mid west}{35,41}{12.5}{cteal}{39427.98}
\txt{mid west}{93,41}{12.5}{cgray}{高値}\txt{mid west}{120.5,41}{12.5}{cteal}{39788.98}
\txt{mid west}{179,41}{12.5}{cgray}{安値}\txt{mid west}{206,41}{12.5}{cteal}{39266.98}
\txt{mid west}{265,41}{12.5}{cgray}{終値}\txt{mid west}{292,41}{12.5}{cteal}{39664.98}
\txt{mid west}{350,41}{12.5}{cteal}{+220.00}\txt{mid west}{401,41}{12.5}{cteal}{(+0.56\%)}
\draw[cred,fill=white,rounded corners=3pt,line width=1pt] (8.5,56.5) rectangle (76.5,93.5);
\txt{mid}{42.5,75}{12}{cred}{37907.98}
\txt{mid}{95,75}{11.5}{cdark}{9.04}
\draw[cblue,fill=white,rounded corners=3pt,line width=1pt] (114.5,56.5) rectangle (181.5,93.5);
\txt{mid}{148,75}{12}{cblue}{37917.02}
\draw[cbar,fill=white,rounded corners=3pt,line width=1pt] (9.5,100.5) rectangle (40.5,120.5);
\draw[cdark,line width=1pt] (16,108.5)--(20,112)--(24,108.5);
\txt{mid}{32,110.5}{12}{cdark}{3}
\draw[cbar,fill=white,rounded corners=3pt,line width=1pt] (497.5,5) rectangle (521,27);
\foreach \dx in {503.5,509.5,515.5}{\fill[cdark] (\dx,16) circle (1.2);}
\draw[cbar,fill=white,rounded corners=3pt,line width=1pt] (529.5,4.5) rectangle (588.5,29);
\txt{mid west}{533,16.5}{12}{cdark}{JPY}
\draw[cdark,line width=.9pt] (579.5,15.5)--(582,18)--(584.5,15.5);
\fill[blue!20!cdark!80!cblue] (613,17) circle (9);
\txt{mid}{613,17}{7.5}{white}{\textbf{225}}
\txt{mid west}{627,16}{15}{cgray}{日経225}
\txt{mid west}{686,16}{15}{cgray}{·}
\txt{mid west}{695,16}{15}{cgray}{4時間}
\txt{mid west}{740,16}{15}{cgray}{·}
\txt{mid west}{748,17}{14}{cgray}{PEPPERSTONE}
\fill[cteal!15] (870,17) circle (9);\fill[cteal] (870,17) circle (3.5);
\txt{mid west}{603,41}{12.5}{cgray}{始値}\txt{mid west}{630,41}{12.5}{cteal}{39413.1}
\txt{mid west}{682,41}{12.5}{cgray}{高値}\txt{mid west}{709,41}{12.5}{cteal}{39642.7}
\txt{mid west}{761,41}{12.5}{cgray}{安値}\txt{mid west}{788,41}{12.5}{cteal}{39413.1}
\txt{mid west}{839,41}{12.5}{cgray}{終値}\txt{mid west}{866,41}{12.5}{cteal}{39516.9}
\txt{mid west}{918,41}{12.5}{cteal}{+93.8}\txt{mid west}{955,41}{12.5}{cteal}{(+0.24\%)}
\draw[cred,fill=white,rounded corners=3pt,line width=1pt] (603.5,56.5) rectangle (664.5,93.5);
\txt{mid}{634,75}{12}{cred}{37900.7}
\txt{mid}{680,75}{11.5}{cdark}{8.0}
\draw[cblue,fill=white,rounded corners=3pt,line width=1pt] (696.5,56.5) rectangle (757.5,93.5);
\txt{mid}{727,75}{12}{cblue}{37908.7}
\draw[cbar,fill=white,fill opacity=.6,rounded corners=3pt,line width=1pt] (605,100.5) rectangle (636,120.5);
\draw[cdark,line width=1pt] (611,108.5)--(615,112)--(619,108.5);
\txt{mid}{627,110.5}{12}{cdark}{2}
\draw[cbar,fill=white,rounded corners=3pt,line width=1pt] (1310.5,4.5) rectangle (1361,29);
\txt{mid west}{1314,16.5}{12}{cdark}{JPY}
\draw[cdark,line width=.9pt] (1352.5,15.5)--(1355,18)--(1357.5,15.5);
\fill[white,draw=white,line width=2pt,line join=round] (10.3,667.7)--(44,667.7)--(38.3,683.3)--(17,683.3)--(17,675)--(10.3,675)--cycle;
\fill[black] (10.3,667.7)--(26.8,667.7)--(26.8,683.3)--(17,683.3)--(17,675)--(10.3,675)--cycle;
\fill[black] (31.4,671) circle (3);
\fill[black] (36.4,667.7)--(44,667.7)--(38.3,683.3)--(30,683.3)--cycle;
\fill[cdark] (347,697) rectangle (449,722);
\txt{mid}{398,710}{12}{white}{\textbf{2024-04-09 (火)}}
\fill[cdark] (595,697) rectangle (737,722);
\txt{mid}{666,710}{12}{white}{\textbf{2024-04-09 (火)\quad 07:00}}
\draw[cdark,line width=.9pt] (566,711)--(562.5,705)--(555.5,705)--(552,711)--(555.5,717)--(562.5,717)--cycle;
\draw[cdark,line width=.9pt] (559,711) circle (2);
\draw[cblue,line width=2.5pt] (1.25,1.25) rectangle (591.75,723.75);
\draw[cbar,line width=1pt] (595,725.5)--(1366,725.5);
\fill[cbar] (0,762) rectangle (1366,768);
\txt{mid}{25,745}{13}{cbot}{1日}
\txt{mid}{57,745}{13}{cbot}{5日}
\txt{mid}{98,745}{13}{cbot}{1ヶ月}
\txt{mid}{145,745}{13}{cbot}{3ヶ月}
\txt{mid}{192,745}{13}{cbot}{6ヶ月}
\txt{mid}{245,745}{13}{cbot}{年初来}
\txt{mid}{288,745}{13}{cbot}{1年}
\txt{mid}{320,745}{13}{cbot}{5年}
\txt{mid}{365,745}{13}{cbot}{すべて}
\draw[cbar,line width=1pt] (396.5,734)--(396.5,756);
\draw[cdark,line width=1pt] (411,741)--(428,741) (414,737)--(414,741) (424,737)--(424,741) (411,741)--(411,748) (428,741)--(428,753)--(418,753) (409,752)--(415,752) (413,750)--(415.5,752)--(413,754);
\txt{mid east}{1316,745}{13}{cbot}{07:10:24 (UTC+9)}
\draw[cbar,line width=1pt] (1327.5,734)--(1327.5,756);
\draw[cdark,line width=1pt] (1341,746)--(1341,752)--(1347,752) (1347,738.5)--(1354,738.5)--(1354,745);
\end{scope}
\end{tikzpicture}
\end{document}
